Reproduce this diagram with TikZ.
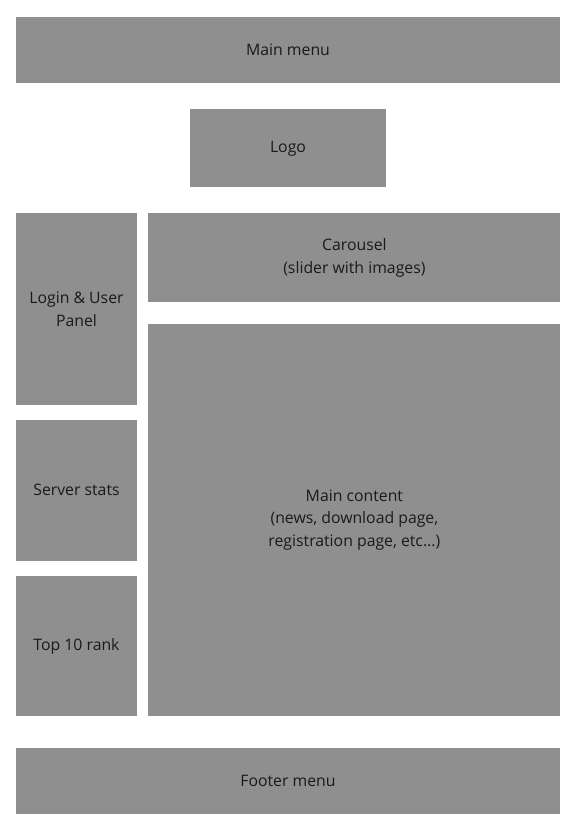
\documentclass[tikz,border=0pt]{standalone}
\usepackage{fontspec}
\setmainfont{Open Sans}
\usetikzlibrary{positioning}
\definecolor{Panel}{HTML}{8F8F8F}
\definecolor{Ink}{HTML}{1A1A1A}

\begin{document}
\begin{tikzpicture}[x=1pt,y=-1pt,
    blk/.style={fill=Panel,inner sep=0pt,align=center,text=Ink,font=\fontsize{15.8}{22.5}\selectfont}]
    \useasboundingbox (0,0) rectangle (577,827);
    \node[blk,minimum width=544pt,minimum height=66pt] (menu) at (288,50) {Main menu};
    \node[blk,minimum width=196pt,minimum height=78pt,below=26pt of menu] (logo) {Logo};
    \node[blk,minimum width=121pt,minimum height=192pt,below=130pt of menu.south west,anchor=north west] (login) {Login \& User\\Panel};
    \node[blk,minimum width=412pt,minimum height=89pt,right=11pt of login.north east,anchor=north west] (carousel) {Carousel\\(slider with images)};
    \node[blk,minimum width=412pt,minimum height=392pt,below=21pt of carousel] (content) {Main content\\(news, download page,\\registration page, etc...)};
    \node[blk,minimum width=121pt,minimum height=141pt,below=14pt of login] (stats) {Server stats};
    \node[blk,minimum width=121pt,minimum height=140pt,below=15pt of stats] (top) {Top 10 rank};
    \node[blk,minimum width=544pt,minimum height=66pt,below=31pt of top.south west,anchor=north west] (footer) {Footer menu};
  \end{tikzpicture}
\end{document}
